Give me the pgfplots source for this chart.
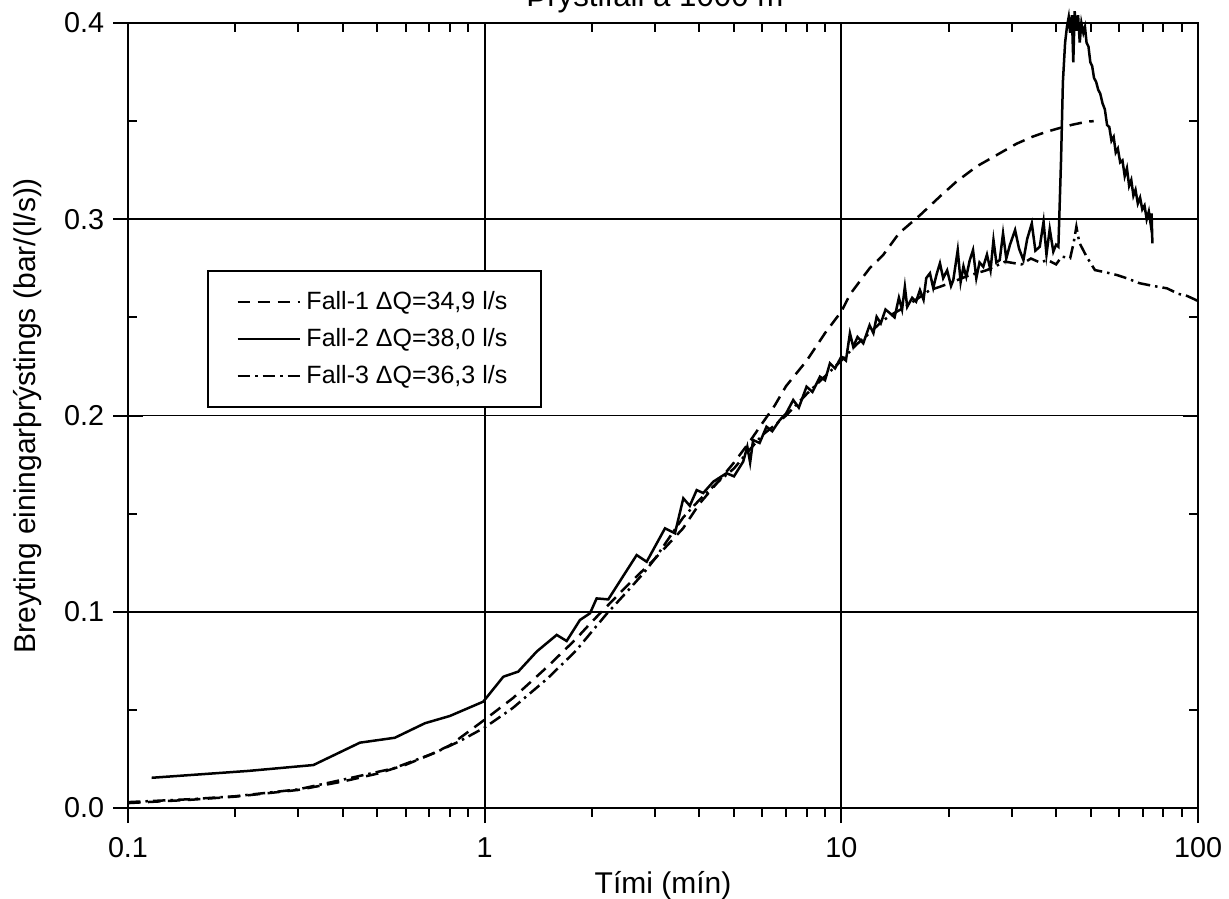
\documentclass[border=0pt]{standalone}
\usepackage{pgfplots}
\pgfplotsset{compat=1.18}
\usepackage{fontspec}
\setmainfont{Liberation Sans}
\begin{document}
\begin{tikzpicture}
% inner ticks (top, right, left minor)
\begin{axis}[
  at={(0,0)}, anchor=south west, scale only axis,
  width=428pt, height=314pt,
  xmode=log, xmin=0.1, xmax=100, ymin=0, ymax=0.4,
  axis line style={line width=1pt},
  major tick length=6pt, minor tick length=3.5pt,
  every tick/.style={black, line width=0.8pt},
  tick align=inside,
  xtick pos=right, ytick pos=both,
  xtick={0.1,1,10,100}, xticklabels={},
  ytick={0,0.1,0.2,0.3,0.4}, yticklabels={},
  minor y tick num=1,
]
\end{axis}
% main axis with data
\begin{axis}[
  at={(0,0)}, anchor=south west, scale only axis,
  width=428pt, height=314pt,
  xmode=log, xmin=0.1, xmax=100, ymin=0, ymax=0.4,
  axis line style={line width=1pt},
  major tick length=6pt, minor tick length=3.5pt,
  every tick/.style={black, line width=0.8pt},
  clip=false,
  tick align=outside,
  xtick pos=left, ytick pos=left,
  xtick={0.1,1,10,100}, xticklabels={0.1,1,10,100},
  ytick={0,0.1,0.2,0.3,0.4}, yticklabels={0.0,0.1,0.2,0.3,0.4},
  minor y tick num=0,
  grid=major,
  major grid style={black, line width=0.7pt},
  ticklabel style={font=\fontsize{11.5}{13}\selectfont},
  /pgf/number format/assume math mode=true,
  xticklabel style={anchor=center, yshift=-10pt},
  yticklabel style={anchor=east},
  label style={font=\fontsize{12}{14}\selectfont},
  xlabel={Tími (mín)},
  ylabel={Breyting einingarþrýstings (bar/(l/s))},
  xlabel style={at={(axis description cs:0.5,0)}, anchor=center, yshift=-31pt},
  ylabel style={at={(axis description cs:-0.0935,0.5)}, anchor=center},
  legend style={at={(axis description cs:0.0736,0.685)}, anchor=north west,
    draw=black, line width=0.8pt, font=\fontsize{10}{12}\selectfont,
    inner xsep=11.5pt, inner ysep=6pt, row sep=2pt},
  legend cell align=left,
  legend image code/.code={\draw[#1] (0pt,0pt) -- (25pt,0pt);},
]
\addplot[black, line width=1pt, dash pattern=on 5pt off 3pt] coordinates {
(0.1,0.0025) (0.15,0.0042) (0.2,0.0058) (0.3,0.0092) (0.4,0.0135) (0.5,0.0175)
(0.6,0.0220) (0.7,0.0270) (0.8,0.0320) (1.0,0.0450) (1.2,0.0560) (1.5,0.0720)
(1.8,0.0860) (2.0,0.0950) (2.5,0.1130) (3.0,0.1270) (3.6,0.1425) (4.0,0.1550)
(4.5,0.1660) (5.0,0.1760) (5.5,0.1860) (6.0,0.1960) (6.5,0.2050) (7.0,0.2150)
(8.0,0.2280) (9.0,0.2420) (10.0,0.2530) (10.6,0.2620) (12.0,0.2750) (13.1,0.2818)
(14.5,0.2928) (16.6,0.3020) (19.0,0.3120) (21.0,0.3191) (24.0,0.3270) (27.8,0.3336)
(31.0,0.3385) (34.4,0.3421) (37.5,0.3445) (40.6,0.3463) (44.5,0.3482) (48.7,0.3497)
(51.0,0.3500)
};
\addlegendentry{Fall-1 ΔQ=34,9 l/s}
\addplot[black, line width=1pt] coordinates {
(0.1165,0.0154) (0.2175,0.0189) (0.331,0.0219) (0.447,0.0333) (0.560,0.0358)
(0.680,0.0432) (0.799,0.0469) (0.991,0.0542) (1.128,0.0669) (1.242,0.0695)
(1.399,0.0797) (1.592,0.0882) (1.698,0.0851) (1.850,0.0958) (1.974,0.0992)
(2.060,0.1068) (2.221,0.1063) (2.422,0.1170) (2.668,0.1289) (2.846,0.1255)
(3.203,0.1425) (3.416,0.1400) (3.606,0.1578) (3.76,0.1540) (3.931,0.1620)
(4.10,0.1605) (4.377,0.1663) (4.764,0.1706) (5.00,0.1690) (5.306,0.1765)
(5.45,0.1841) (5.55,0.1760) (5.657,0.1875) (5.9,0.1860) (6.168,0.1943)
(6.4,0.1920) (6.72,0.1977) (7.0,0.2010) (7.33,0.2079) (7.6,0.2040)
(7.99,0.2147) (8.3,0.2120) (8.71,0.2198) (9.0,0.2180) (9.29,0.2266)
(9.6,0.2240) (10.0,0.2300) (10.3,0.2280) (10.57,0.2419) (10.8,0.2350)
(11.1,0.2400) (11.52,0.2368) (12.0,0.2460) (12.3,0.2420) (12.56,0.2503)
(12.9,0.2470) (13.3,0.2540) (13.69,0.2521) (14.1,0.2500) (14.5,0.2600)
(14.8,0.2540) (15.07,0.2656) (15.3,0.2554) (15.8,0.2600) (16.2,0.2580)
(16.61,0.2639) (17.0,0.2590) (17.3,0.2700) (17.72,0.2725) (18.1,0.2650)
(18.5,0.2720) (18.9,0.2776) (19.3,0.2700) (19.8,0.2740) (20.3,0.2660)
(20.6,0.2690) (21.2,0.2843) (21.6,0.2680) (22.0,0.2760) (22.4,0.2707)
(22.9,0.2790) (23.4,0.2843) (23.9,0.2700) (24.4,0.2780) (25.0,0.2758)
(25.6,0.2820) (26.2,0.2740) (26.7,0.2894) (27.2,0.2780) (27.8,0.2792)
(28.4,0.2928) (29.0,0.2800) (29.7,0.2870) (30.7,0.2945) (31.5,0.2850)
(32.4,0.2792) (33.2,0.2900) (34.2,0.2979) (35.0,0.2840) (36.0,0.2860)
(36.9,0.2988) (37.6,0.2820) (38.4,0.2950) (39.3,0.2835) (40.0,0.2870)
(40.6,0.2860) (41.3,0.3300) (41.8,0.3700) (42.4,0.3900) (42.9,0.3980)
(43.4,0.4030) (43.8,0.3950) (44.3,0.4040) (44.7,0.3800) (45.1,0.4060)
(45.6,0.3960) (46.1,0.4040) (46.6,0.3900) (47.1,0.4000) (47.7,0.3950)
(48.2,0.3980) (48.7,0.3900) (49.3,0.3880) (49.9,0.3800) (50.5,0.3780)
(51.1,0.3720) (51.8,0.3700) (52.5,0.3660) (53.2,0.3640) (54.0,0.3590)
(54.8,0.3560) (55.6,0.3480) (56.4,0.3470) (57.2,0.3400) (58.0,0.3420)
(58.8,0.3340) (59.6,0.3360) (60.5,0.3290) (61.4,0.3300) (62.3,0.3220)
(63.2,0.3260) (64.1,0.3170) (65.0,0.3200) (65.9,0.3120) (66.8,0.3150)
(67.8,0.3080) (68.8,0.3110) (69.8,0.3050) (70.8,0.3070) (71.8,0.3000)
(72.8,0.3040) (73.6,0.2980) (74.1,0.3030) (74.5,0.2877)
};
\addlegendentry{Fall-2 ΔQ=38,0 l/s}
\addplot[black, line width=1pt, dash pattern=on 5pt off 2pt on 1pt off 2pt] coordinates {
(0.1,0.0030) (0.15,0.0045) (0.2,0.0060) (0.3,0.0095) (0.377,0.0134) (0.45,0.0165)
(0.555,0.0202) (0.72,0.0279) (0.85,0.0340) (1.0,0.0410) (1.2,0.0510) (1.5,0.0660)
(1.8,0.0800) (2.0,0.0900) (2.2,0.0990) (2.5,0.1100) (2.8,0.1200) (3.0,0.1270)
(3.3,0.1380) (3.6,0.1480) (4.0,0.1570) (4.5,0.1660) (5.0,0.1730) (5.5,0.1820)
(6.0,0.1900) (6.5,0.1950) (7.0,0.2000) (8.0,0.2110) (9.0,0.2200) (10.0,0.2280)
(11.0,0.2360) (12.0,0.2420) (13.0,0.2480) (14.0,0.2520) (15.0,0.2550) (16.5,0.2600)
(17.7,0.2639) (18.9,0.2656) (20.5,0.2680) (22.5,0.2710) (25.6,0.2741) (28.8,0.2784)
(32.0,0.2770) (34.0,0.2800) (36.0,0.2780) (37.9,0.2792) (40.0,0.2770) (41.5,0.2810)
(43.8,0.2801) (44.8,0.2880) (45.6,0.2962) (46.5,0.2880) (48.7,0.2810) (51.4,0.2741)
(55.0,0.2730) (59.2,0.2716) (63.0,0.2700) (68.6,0.2674) (75.0,0.2660) (81.9,0.2648)
(88.0,0.2620) (93.0,0.2610) (98.6,0.2589) (100,0.2580)
};
\addlegendentry{Fall-3 ΔQ=36,3 l/s}
\node[font=\fontsize{12.5}{14}\selectfont, anchor=base] at (axis description cs:0.4925,1) [yshift=6.6pt] {Þrýstifall á 1000 m};
\end{axis}
\pgfresetboundingbox
\useasboundingbox (-51.2pt,-36pt) rectangle (440.4pt,323.2pt);
\end{tikzpicture}
\end{document}
